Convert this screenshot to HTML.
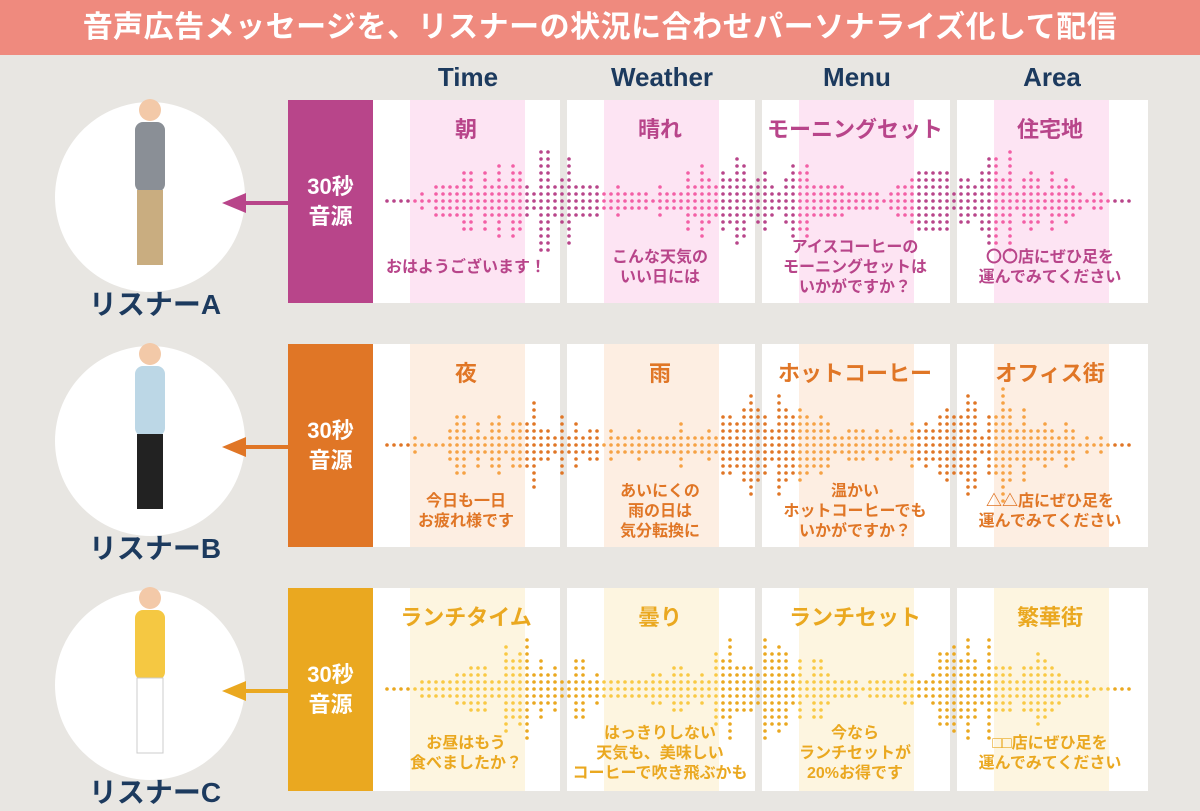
<!DOCTYPE html>
<html><head><meta charset="utf-8"><style>
body{margin:0;width:1200px;height:800px;background:#e8e6e2;overflow:hidden;font-family:"Liberation Sans","Noto Sans CJK JP",sans-serif;position:relative}
.t{position:absolute;left:0;top:0;width:1200px;height:55px;background:#ef8a7e;color:#fff;font-weight:bold;font-size:30px;text-align:center;line-height:55px;letter-spacing:0.5px}
.h{position:absolute;top:62px;font-weight:bold;font-size:26px;color:#1c3a5e;text-align:center;width:190px}
.abs{position:absolute}
.lbl{position:absolute;left:288px;width:85px;height:203px;color:#fff;font-weight:bold;font-size:22px;text-align:center;display:flex;align-items:center;justify-content:center;line-height:30px}
.pn{position:absolute;background:#fff;height:203px}
.band{position:absolute;top:0;height:203px;width:115px}
.kw{position:absolute;width:190px;text-align:center;font-weight:bold;font-size:22px;z-index:2}
.msg{position:absolute;width:190px;text-align:center;font-weight:bold;font-size:16px;line-height:20px;z-index:2}
.circ{position:absolute;left:55px;width:190px;height:190px;border-radius:50%;background:#fff}
.name{position:absolute;left:60px;width:190px;text-align:center;font-weight:bold;font-size:28px;color:#1c3a5e;z-index:2}
#sv{z-index:1}
</style></head><body>
<div class="t">音声広告メッセージを、リスナーの状況に合わせパーソナライズ化して配信</div>
<div class="h" style="left:373px">Time</div>
<div class="h" style="left:567px">Weather</div>
<div class="h" style="left:762px">Menu</div>
<div class="h" style="left:957px">Area</div>
<div id="rows"></div>
<svg id="sv" class="abs" style="left:0;top:0" width="1200" height="800"></svg>
<script>
var rows=[
{y:100,c:"#b8458a",b:"#fde4f3",d1:"#f35fa5",d2:"#b8458a",n:"リスナーA",kw:["朝","晴れ","モーニングセット","住宅地"],m:["おはようございます！","こんな天気の<br>いい日には","アイスコーヒーの<br>モーニングセットは<br>いかがですか？","〇〇店にぜひ足を<br>運んでみてください"],my:[158,148,138,148]},
{y:344,c:"#e07626",b:"#fdeee2",d1:"#f6a244",d2:"#e07626",n:"リスナーB",kw:["夜","雨","ホットコーヒー","オフィス街"],m:["今日も一日<br>お疲れ様です","あいにくの<br>雨の日は<br>気分転換に","温かい<br>ホットコーヒーでも<br>いかがですか？","△△店にぜひ足を<br>運んでみてください"],my:[148,138,138,148]},
{y:588,c:"#eaa820",b:"#fdf5e0",d1:"#f9c944",d2:"#eaa820",n:"リスナーC",kw:["ランチタイム","曇り","ランチセット","繁華街"],m:["お昼はもう<br>食べましたか？","はっきりしない<br>天気も、美味しい<br>コーヒーで吹き飛ぶかも","今なら<br>ランチセットが<br>20%お得です","□□店にぜひ足を<br>運んでみてください"],my:[146,136,136,146]}];
var px=[373,567,762,957],pw=[187,188,188,191];
var h="",s="";
var seed=7;function rnd(){seed=(seed*9301+49297)%233280;return seed/233280;}
rows.forEach(function(r,i){
 var y=r.y;
 h+='<div class="circ" style="top:'+(y+2)+'px"></div>';
 h+='<div class="name" style="top:'+(y+183)+'px">'+r.n+'</div>';
 h+='<div class="lbl" style="top:'+y+'px;background:'+r.c+'">30秒<br>音源</div>';
 for(var k=0;k<4;k++){
  h+='<div class="pn" style="left:'+px[k]+'px;top:'+y+'px;width:'+pw[k]+'px"><div class="band" style="left:37px;background:'+r.b+'"></div></div>';
  h+='<div class="kw" style="left:'+(px[k]-2)+'px;top:'+(y+12)+'px;color:'+r.c+'">'+r.kw[k]+'</div>';
  h+='<div class="msg" style="left:'+(px[k]-2)+'px;top:'+(y+r.my[k])+'px;color:'+r.c+'">'+r.m[k]+'</div>';
 }
 s+='<line x1="288" y1="'+(y+103)+'" x2="240" y2="'+(y+103)+'" stroke="'+r.c+'" stroke-width="4"/>';
 s+='<polygon points="222,'+(y+103)+' 246,'+(y+93)+' 246,'+(y+113)+'" fill="'+r.c+'"/>';
 var cx=150;
 s+='<circle cx="'+cx+'" cy="'+(y+10)+'" r="11" fill="#f3c9a8"/><rect x="'+(cx-15)+'" y="'+(y+22)+'" width="30" height="70" rx="8" fill="'+(i==0?'#8a8f96':i==1?'#bcd7e6':'#f5c842')+'"/>';
 s+='<rect x="'+(cx-13)+'" y="'+(y+90)+'" width="26" height="75" fill="'+(i==0?'#c9ad80':i==1?'#222':'#fff')+'" stroke="#ccc" stroke-width="'+(i==2?1:0)+'"/>';
 var cy=y+101;
 for(var x=387;x<=1135;x+=7){
  var e=Math.min(1,(x-387)/60,(1135-x)/60);
  var a=Math.round((1+rnd()*7)*e*(0.6+0.4*Math.sin(x/37)));
  if(x<400||x>1120)a=0;
  var inb=false;
  for(var k=0;k<4;k++){var o=x-px[k];if(o>=37&&o<=152)inb=true;}
  var col=inb?r.d1:r.d2;
  for(var j=-a;j<=a;j++)s+='<circle cx="'+x+'" cy="'+(cy+j*7)+'" r="1.8" fill="'+col+'"/>';
 }
});
document.getElementById('rows').innerHTML=h;
document.getElementById('sv').innerHTML=s;
</script>
</body></html>
